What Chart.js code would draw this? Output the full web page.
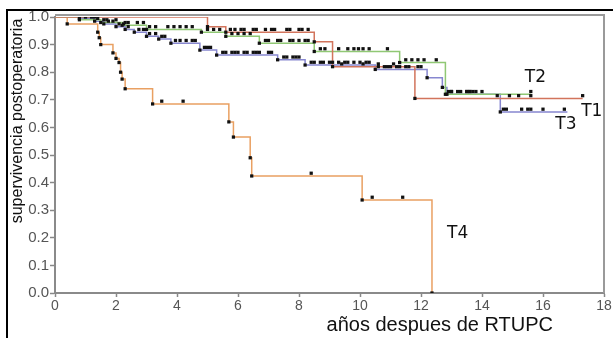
<!DOCTYPE html>
<html><head><meta charset="utf-8">
<script src="https://cdn.jsdelivr.net/npm/chart.js@4"></script>
<style>html,body{margin:0;padding:0;background:#fff}canvas{display:block}</style>
</head><body>
<canvas id="c" width="613" height="338"></canvas>
<script>
// ---- data ----
const xTicks = [0, 2, 4, 6, 8, 10, 12, 14, 16, 18];
const yTicks = [0.0, 0.1, 0.2, 0.3, 0.4, 0.5, 0.6, 0.7, 0.8, 0.9, 1.0];
const seriesNames = ['T1', 'T2', 'T3', 'T4'];

// step curves: time of change, survival after the change
const t1Times = [0, 5.0, 5.6, 8.5, 9.1, 11.8, 17.3];
const t1Surv  = [1.0, 0.965, 0.945, 0.91, 0.82, 0.705, 0.705];
// censored times
const t1Cens  = [5.75, 5.9, 6.1, 6.2, 6.5, 6.6, 6.9, 7.1, 7.2, 7.6, 7.7, 8.0, 8.1, 8.3, 9.4, 10.1, 10.6, 11.1,
                 14.5, 14.9, 15.2, 15.6, 17.3];

const t2Times = [0, 0.8, 1.5, 2.2, 3.0, 4.8, 5.6, 6.7, 8.5, 11.3, 12.8, 15.6];
const t2Surv  = [1.0, 0.99, 0.98, 0.97, 0.955, 0.945, 0.93, 0.905, 0.875, 0.835, 0.72, 0.72];
const t2Cens  = [0.3, 0.5, 0.7, 1.0, 1.2, 1.3, 1.6, 1.7, 2.0, 2.3, 2.4, 2.7, 2.9, 3.1, 3.3, 3.7, 3.9, 4.1, 4.3, 4.5,
                 5.0, 5.2, 5.4, 5.8, 6.0, 6.2, 6.4, 6.9, 7.0, 7.3, 7.4, 7.7, 7.8, 8.0, 8.2, 8.3,
                 8.7, 8.85, 9.3, 9.6, 9.8, 9.95, 10.1, 10.3, 10.9, 11.5, 11.7, 11.9, 12.1, 12.5,
                 13.0, 13.2, 13.5, 13.6, 13.8, 15.6];

const t3Times = [0, 0.8, 1.3, 1.6, 2.0, 2.3, 2.6, 3.0, 3.4, 3.8, 4.75, 5.3, 7.3, 8.2, 10.5, 12.2, 12.7, 12.85, 14.6, 16.8];
const t3Surv  = [1.0, 0.995, 0.985, 0.975, 0.965, 0.955, 0.945, 0.93, 0.92, 0.905, 0.88, 0.862, 0.845, 0.826, 0.81, 0.78, 0.745, 0.72, 0.656, 0.656];
const t3Cens  = [0.3, 0.45, 0.6, 0.9, 1.1, 1.25, 1.4, 1.75, 1.9, 2.1, 2.25, 2.4, 2.75, 2.9, 3.1, 3.3,
                 3.5, 3.6, 3.95, 4.1, 4.3, 4.5, 4.6, 4.9, 5.0, 5.1, 5.5, 5.6, 5.8, 5.9, 6.0, 6.2, 6.3, 6.5,
                 6.6, 6.7, 7.0, 7.1, 7.5, 7.6, 7.8, 7.9, 8.0, 8.4, 8.5, 8.7, 8.8, 9.0, 9.1, 9.3, 9.5, 9.6, 9.8,
                 10.0, 10.2, 10.3, 10.6, 10.8, 10.9, 11.0, 11.2, 11.3, 11.5, 11.6, 11.9, 12.0, 12.9, 13.0, 13.3,
                 13.5, 13.6, 13.7, 14.0, 14.7, 14.8, 15.3, 15.5, 15.6, 16.0, 16.7];

const t4Times = [0, 0.4, 1.4, 1.45, 1.5, 1.9, 2.0, 2.1, 2.15, 2.2, 2.3, 3.2, 5.7, 5.85, 6.4, 6.45, 10.07, 12.36];
const t4Surv  = [1.0, 0.975, 0.945, 0.925, 0.9, 0.87, 0.85, 0.835, 0.80, 0.775, 0.74, 0.685, 0.62, 0.565, 0.49, 0.424, 0.337, 0.0];
const t4Cens  = [3.5, 4.2, 8.4, 10.4, 11.4];

const labelPos = { T1: [17.6, 0.656], T2: [15.75, 0.779], T3: [16.75, 0.612], T4: [13.2, 0.217] };

// ---- build ----
const colors = { T1: '#d2745c', T2: '#90c874', T3: '#8787d0', T4: '#e9a062' };
const times = { T1: t1Times, T2: t2Times, T3: t3Times, T4: t4Times };
const surv  = { T1: t1Surv,  T2: t2Surv,  T3: t3Surv,  T4: t4Surv };
const cens  = { T1: t1Cens,  T2: t2Cens,  T3: t3Cens,  T4: t4Cens };
const censLift = 0.01;

function survAt(ts, ss, t) {
  let v = ss[0];
  for (let i = 0; i < ts.length; i++) { if (ts[i] <= t) v = ss[i]; }
  return v;
}

const datasets = [];
seriesNames.forEach(n => {
  const ev = [];
  times[n].forEach((t, i) => { if (i > 0 && surv[n][i] < surv[n][i - 1]) ev.push({ x: t, y: surv[n][i] }); });
  const cs = cens[n].map(t => ({ x: t, y: survAt(times[n], surv[n], t) + censLift }));
  datasets.push({
    type: 'scatter', label: n + ' marks', order: 0,
    data: ev.concat(cs),
    pointStyle: 'rect', pointRadius: 2.3, backgroundColor: '#111', borderWidth: 0
  });
});
seriesNames.forEach(n => {
  datasets.push({
    type: 'line', label: n, order: 1,
    data: times[n].map((t, i) => ({ x: t, y: surv[n][i] })),
    stepped: true, borderColor: colors[n], borderWidth: 1.5, pointRadius: 0, fill: false
  });
});

const decor = {
  id: 'decor',
  afterDraw(chart) {
    const ctx = chart.ctx, a = chart.chartArea;
    const xs = chart.scales.x, ys = chart.scales.y;
    ctx.save();
    // outer frame (top + left)
    ctx.fillStyle = '#000';
    ctx.fillRect(6, 9, 613 - 6, 2);
    ctx.fillRect(6, 9, 2, 338 - 9);
    // plot frame top + right
    ctx.fillStyle = '#9a9a9a';
    ctx.fillRect(a.left, 14, a.right - a.left + 1, 2);
    ctx.fillRect(a.right - 1, 14, 2, a.bottom - 14);
    // series labels
    ctx.fillStyle = '#111';
    ctx.font = '17px "DejaVu Sans"';
    ctx.textAlign = 'center'; ctx.textBaseline = 'middle';
    seriesNames.forEach(n => {
      const p = labelPos[n];
      ctx.fillText(n, xs.getPixelForValue(p[0]), ys.getPixelForValue(p[1]));
    });
    // x title
    ctx.font = '20px "Liberation Sans"';
    ctx.textAlign = 'right'; ctx.textBaseline = 'middle';
    ctx.fillText('años despues de RTUPC', 553, 325);
    // y title
    ctx.translate(18, 121);
    ctx.rotate(-Math.PI / 2);
    ctx.font = '16px "Liberation Sans"';
    ctx.textAlign = 'center';
    ctx.fillText('supervivencia postoperatoria', 0, 0);
    ctx.restore();
  }
};

new Chart(document.getElementById('c'), {
  data: { datasets },
  options: {
    responsive: false, animation: false,
    layout: { padding: { left: 0, top: 17, right: 9, bottom: 0 } },
    plugins: { legend: { display: false }, tooltip: { enabled: false } },
    scales: {
      x: {
        type: 'linear', min: 0, max: 18,
        afterBuildTicks: s => { s.ticks = xTicks.map(v => ({ value: v })); },
        afterFit: s => { s.height = 45; },
        grid: { drawOnChartArea: false, drawTicks: true, tickLength: 4, tickColor: '#888', tickWidth: 1.5 },
        border: { color: '#8a8a8a', width: 2 },
        ticks: { color: '#555', font: { family: 'Liberation Sans', size: 14 }, padding: 1, maxRotation: 0 }
      },
      y: {
        type: 'linear', min: 0, max: 1,
        afterBuildTicks: s => { s.ticks = yTicks.map(v => ({ value: v })); },
        afterFit: s => { s.width = 55; },
        grid: { drawOnChartArea: false, drawTicks: true, tickLength: 5, tickColor: '#888', tickWidth: 1.5 },
        border: { color: '#8a8a8a', width: 2 },
        ticks: { color: '#555', font: { family: 'Liberation Sans', size: 15 }, padding: 1,
                 callback: v => Number(v).toFixed(1) }
      }
    }
  },
  plugins: [decor]
});
</script>
</body></html>
